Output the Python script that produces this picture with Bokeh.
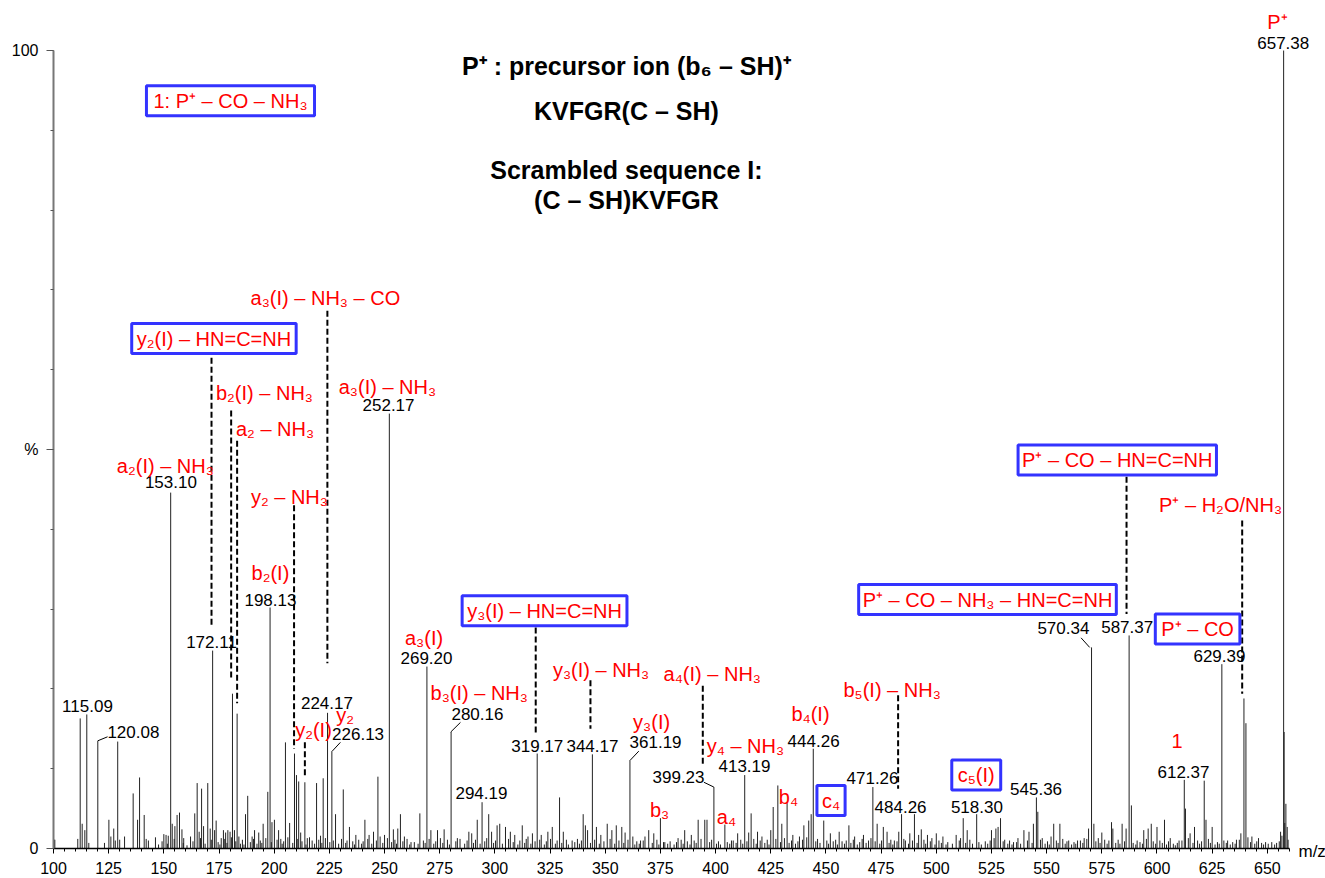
from bokeh.plotting import figure
from bokeh.models import ColumnDataSource, Label, FixedTicker, Range1d
from bokeh.embed import file_html
from bokeh.resources import INLINE

# ---------------- data (m/z, relative intensity %) ----------------
labeled_peaks = [
    (112.1, 16.3), (115.09, 16.8), (120.08, 13.5), (129.1, 13.4), (153.10, 44.6),
    (172.11, 24.8), (181.1, 19.4), (183.2, 16.9), (198.13, 30.2), (205.1, 13.3),
    (209.2, 11.9), (224.17, 17.0), (226.13, 12.2), (252.17, 54.5), (269.20, 22.8),
    (280.16, 14.6), (294.19, 5.8), (319.17, 11.9), (344.17, 11.8), (361.19, 11.0),
    (399.23, 7.7), (413.19, 9.2), (444.26, 12.5), (471.26, 7.7), (484.26, 4.3),
    (518.30, 4.3), (545.36, 6.4), (570.34, 25.2), (587.37, 26.7), (612.37, 8.6),
    (621.4, 8.5), (629.39, 23.1), (639.4, 18.8), (640.3, 15.7), (657.38, 100.0),
    (657.6, 14.6), (658.4, 5.6),
]

minor_peaks = [
    (100.3, 1.1), (100.6, 1.1), (111.0, 1.2), (113.0, 3.1), (114.2, 2.3), (116.0, 0.7),
    (123.1, 0.7), (125.1, 3.6), (126.0, 1.5), (127.3, 2.5), (128.0, 1.0), (130.0, 1.1),
    (132.2, 1.5), (136.1, 6.9), (138.1, 3.6), (139.0, 8.9), (141.1, 4.2), (142.0, 1.2),
    (143.0, 1.0), (146.2, 1.4), (150.0, 1.8), (151.0, 1.7), (152.0, 1.6), (153.8, 3.1),
    (155.0, 2.8), (156.0, 4.2), (157.1, 4.5), (158.2, 2.4), (159.0, 1.3), (162.1, 1.5),
    (164.0, 4.4), (165.1, 8.2), (166.0, 2.1), (167.1, 7.5), (168.0, 2.8), (169.9, 8.2),
    (171.0, 2.5), (173.0, 2.3), (173.7, 3.5), (176.0, 1.3), (177.0, 2.3), (178.0, 2.0),
    (179.0, 2.3), (180.0, 2.1), (182.0, 2.3), (184.0, 1.5), (187.0, 4.3), (188.0, 6.6),
    (190.0, 1.5), (191.1, 2.3), (193.0, 2.0), (195.0, 3.1), (197.1, 7.1), (199.0, 3.3),
    (200.1, 3.6), (202.0, 2.3), (203.0, 1.2), (207.0, 3.2), (210.1, 9.2), (211.1, 8.4),
    (212.0, 2.0), (213.9, 8.3), (215.0, 1.3), (216.0, 1.4), (219.2, 8.2), (221.0, 1.6),
    (222.2, 8.8), (227.8, 4.3), (231.3, 7.4), (233.0, 1.0), (234.1, 2.7), (237.0, 1.7),
    (241.1, 3.6), (243.0, 1.7), (245.0, 2.1), (247.0, 9.0), (248.0, 1.5), (250.0, 1.7),
    (254.0, 2.4), (256.0, 2.5), (257.2, 4.3), (259.0, 1.5), (262.0, 0.8), (266.0, 4.4),
    (271.0, 2.3), (274.0, 2.3), (277.0, 2.4), (283.0, 1.3), (288.2, 2.1), (289.5, 1.9),
    (292.0, 3.6), (297.2, 4.3), (298.5, 2.1), (301.0, 2.9), (302.2, 3.1), (304.8, 2.7),
    (307.0, 2.1), (309.0, 1.7), (312.4, 2.9), (315.0, 1.5), (317.0, 1.9), (321.0, 1.7),
    (324.0, 2.1), (326.0, 2.7), (329.3, 6.4), (331.0, 2.1), (335.0, 1.0), (340.0, 4.3),
    (341.0, 2.9), (342.0, 2.3), (346.0, 2.7), (348.0, 1.7), (350.9, 3.1), (353.0, 2.3),
    (355.0, 2.9), (357.5, 2.7), (359.0, 2.0), (362.5, 1.5), (366.0, 1.0), (368.0, 1.5),
    (369.7, 2.3), (372.0, 1.9), (375.0, 3.8), (377.0, 0.8), (383.0, 1.3), (386.0, 2.3),
    (389.0, 1.7), (392.1, 3.6), (395.1, 3.6), (396.1, 3.6), (404.2, 3.0), (408.0, 1.0),
    (410.0, 1.9), (415.0, 2.0), (416.1, 4.4), (419.0, 2.1), (421.0, 1.5), (425.0, 2.3),
    (426.1, 5.2), (428.2, 7.9), (430.0, 3.1), (432.4, 5.7), (435.0, 1.7), (438.0, 1.5),
    (440.0, 2.9), (442.2, 3.5), (443.3, 4.3), (449.0, 3.5), (452.0, 1.9), (456.0, 2.1),
    (460.4, 2.9), (463.0, 1.5), (467.0, 1.7), (473.2, 3.1), (476.0, 2.7), (477.7, 2.1),
    (481.0, 1.0), (483.0, 2.1), (486.0, 1.0), (488.0, 1.9), (490.1, 4.3), (492.0, 1.7),
    (493.2, 2.4), (496.0, 1.7), (498.0, 1.3), (500.0, 1.9), (503.0, 1.5), (509.0, 1.7),
    (511.0, 1.3), (512.2, 3.8), (514.0, 2.3), (525.0, 2.3), (527.0, 2.5), (528.0, 2.7),
    (529.1, 3.8), (531.0, 1.1), (535.0, 0.8), (537.0, 1.3), (539.7, 2.3), (542.0, 2.1),
    (544.0, 3.1), (546.0, 4.6), (548.0, 1.3), (552.0, 1.5), (553.2, 3.1), (556.0, 3.1),
    (560.0, 1.0), (564.0, 1.0), (567.0, 1.3), (569.0, 2.5), (571.4, 3.1), (575.0, 2.0),
    (579.4, 3.3), (580.0, 2.5), (584.2, 3.1), (586.0, 2.5), (588.4, 5.4), (591.0, 1.0),
    (594.0, 2.3), (596.0, 2.5), (597.4, 3.1), (600.0, 2.7), (603.4, 3.6), (606.0, 1.3),
    (610.0, 1.0), (612.9, 5.0), (615.0, 1.9), (617.0, 2.7), (622.2, 3.6), (625.0, 2.7),
    (632.0, 1.0), (636.0, 1.1), (638.0, 1.9), (643.0, 1.5), (646.0, 1.3), (652.0, 0.8),
    (656.0, 2.1), (659.0, 2.7),
]

noise_peaks = [
    (147.6, 0.5), (149.2, 0.9), (151.6, 0.6), (154.7, 1.2), (158.8, 0.7), (160.5, 0.4),
    (163.2, 0.9), (166.6, 1.3), (168.7, 0.6), (171.5, 1.1), (174.6, 0.8), (175.4, 0.5),
    (177.6, 1.2), (178.6, 0.7), (180.6, 1.4), (182.6, 0.9), (184.7, 0.6), (185.6, 1.1),
    (186.3, 0.5), (189.2, 0.8), (190.6, 1.2), (192.2, 0.6), (193.7, 1.0), (194.4, 0.7),
    (196.2, 1.3), (198.7, 0.8), (201.3, 1.1), (203.6, 0.6), (204.3, 0.9), (206.2, 1.4),
    (208.4, 0.7), (210.7, 1.2), (212.6, 0.9), (214.4, 0.5), (217.2, 1.0), (218.3, 0.6),
    (220.2, 1.1), (221.6, 0.7), (223.2, 1.3), (225.2, 0.8), (226.8, 1.0), (229.2, 0.6),
    (230.5, 1.2), (232.4, 0.7), (235.6, 0.9), (236.4, 0.5), (238.3, 1.1), (239.6, 0.6),
    (240.3, 0.9), (242.4, 1.2), (244.2, 0.6), (246.3, 1.0), (249.2, 0.7), (251.3, 1.3),
    (253.2, 0.8), (254.7, 1.1), (255.4, 0.6), (258.3, 0.9), (260.2, 1.2), (261.4, 0.5),
    (263.5, 0.8), (265.2, 0.6), (267.6, 1.0), (268.4, 0.7), (270.2, 1.2), (272.3, 0.6),
    (273.2, 0.9), (275.3, 1.3), (276.4, 0.7), (278.5, 1.1), (279.4, 0.5), (282.3, 0.9),
    (284.2, 1.2), (286.3, 0.6), (287.4, 1.0), (290.3, 0.7), (291.2, 1.1), (293.3, 0.6),
    (295.4, 0.9), (296.3, 1.3), (299.4, 0.7), (300.3, 1.0), (303.4, 0.6), (306.2, 1.2),
    (308.3, 0.8), (310.4, 0.5), (311.3, 1.0), (313.5, 0.7), (314.2, 1.2), (316.3, 0.6),
    (318.2, 0.9), (320.3, 1.1), (322.4, 0.5), (323.3, 0.9), (325.2, 1.2), (327.4, 0.6),
    (328.2, 1.0), (330.3, 0.7), (332.4, 1.1), (333.3, 0.5), (336.2, 0.8), (337.4, 1.2),
    (338.3, 0.6), (339.2, 1.0), (343.3, 0.7), (345.2, 1.1), (347.3, 0.6), (349.4, 0.9),
    (352.2, 1.2), (354.3, 0.6), (356.2, 1.0), (358.4, 0.7), (360.3, 1.1), (363.4, 0.5),
    (364.3, 0.9), (365.4, 0.6), (367.2, 1.0), (371.3, 0.7), (373.4, 1.1), (374.3, 0.5),
    (376.4, 0.8), (378.3, 0.6), (379.4, 0.9), (381.2, 0.5), (382.3, 0.8), (384.4, 1.1),
    (385.3, 0.6), (387.2, 0.9), (388.4, 0.5), (390.3, 1.0), (391.2, 0.7), (393.4, 1.2),
    (397.3, 0.8), (398.2, 1.1), (400.4, 0.6), (401.3, 0.9), (402.2, 0.5), (405.3, 0.8),
    (406.4, 0.6), (407.2, 1.0), (409.3, 0.7), (411.4, 1.1), (412.3, 0.6), (414.2, 0.9),
    (417.3, 1.2), (418.4, 0.6), (420.2, 1.0), (422.3, 0.7), (423.4, 1.1), (424.2, 0.5),
    (427.3, 1.2), (429.4, 0.8), (431.2, 1.3), (433.3, 0.7), (434.4, 1.0), (436.2, 0.6),
    (437.3, 0.9), (439.4, 1.1), (441.3, 1.4), (445.4, 0.9), (446.2, 1.2), (447.3, 0.7),
    (450.4, 1.0), (451.2, 0.6), (453.3, 0.9), (454.4, 1.1), (455.2, 0.5), (457.3, 0.9),
    (458.4, 0.6), (459.2, 1.0), (461.3, 0.7), (462.4, 1.1), (464.2, 0.5), (465.3, 0.8),
    (466.4, 1.2), (468.2, 0.7), (469.3, 1.0), (470.4, 1.3), (472.3, 0.9), (474.4, 0.6),
    (475.2, 1.0), (478.6, 0.7), (479.4, 1.1), (480.3, 0.5), (482.2, 0.9), (485.3, 1.2),
    (487.4, 0.6), (489.2, 1.0), (491.3, 0.7), (494.4, 1.1), (495.2, 0.6), (497.3, 0.9),
    (499.4, 0.5), (501.2, 1.0), (502.3, 0.7), (504.4, 0.5), (505.2, 0.8), (507.3, 0.6),
    (510.4, 1.0), (513.3, 0.7), (515.2, 1.1), (516.4, 0.6), (519.3, 0.8), (520.4, 0.5),
    (522.2, 0.9), (523.3, 0.6), (524.4, 1.0), (526.2, 1.3), (530.3, 0.9), (532.4, 0.6),
    (533.2, 1.0), (534.3, 0.5), (536.4, 0.8), (538.2, 0.6), (541.3, 1.0), (543.4, 0.7),
    (547.2, 1.1), (549.3, 0.6), (550.4, 0.9), (551.2, 0.5), (554.4, 1.0), (555.2, 0.7),
    (557.3, 1.2), (558.4, 0.6), (559.2, 0.9), (561.3, 0.5), (562.4, 0.8), (563.2, 0.6),
    (565.3, 1.0), (566.4, 0.7), (568.2, 1.2), (572.3, 0.9), (573.4, 1.3), (574.2, 0.7),
    (576.3, 1.1), (577.4, 0.6), (578.2, 1.0), (581.3, 0.7), (582.4, 1.1), (583.2, 0.6),
    (585.3, 0.9), (589.2, 0.7), (590.4, 0.5), (592.3, 0.8), (593.4, 0.6), (595.2, 1.2),
    (598.3, 0.9), (599.4, 0.6), (601.3, 1.0), (602.4, 0.7), (604.3, 0.5), (605.2, 0.9),
    (607.4, 0.6), (608.3, 0.4), (609.2, 0.7), (611.3, 1.0), (614.2, 1.3), (616.3, 0.7),
    (618.4, 1.0), (619.3, 0.6), (620.2, 0.9), (623.3, 1.2), (624.2, 0.7), (626.3, 0.5),
    (627.4, 0.8), (628.2, 0.6), (630.3, 1.0), (631.4, 0.7), (633.2, 0.5), (634.3, 0.8),
    (635.4, 0.6), (637.3, 1.1), (641.2, 1.4), (642.4, 0.8), (644.3, 0.6), (645.2, 0.9),
    (647.4, 0.7), (648.3, 0.5), (649.2, 0.8), (650.4, 0.6), (653.3, 0.5), (654.2, 0.7),
    (655.4, 0.9), (656.6, 1.6), (657.9, 3.2), (659.4, 1.1),
]

# peak-value labels (m/z text, position in m/z and %)
value_labels = [
    ("657.38", 657.2, 101.0), ("153.10", 153.2, 45.9), ("252.17", 251.8, 55.6),
    ("198.13", 198.3, 31.2), ("172.11", 171.6, 25.9), ("224.17", 223.9, 18.2),
    ("226.13", 238.0, 14.4), ("115.09", 115.4, 17.9), ("120.08", 136.2, 14.6),
    ("269.20", 269.0, 23.9), ("280.16", 292.1, 16.9), ("294.19", 293.9, 6.9),
    ("319.17", 319.2, 12.9), ("344.17", 344.2, 12.9), ("361.19", 372.8, 13.4),
    ("399.23", 383.2, 9.0), ("413.19", 413.1, 10.4), ("444.26", 444.4, 13.5),
    ("471.26", 471.1, 8.8), ("484.26", 483.8, 5.2), ("518.30", 518.4, 5.2),
    ("545.36", 545.2, 7.5), ("570.34", 557.6, 27.6), ("587.37", 586.5, 27.8),
    ("629.39", 628.3, 24.1), ("612.37", 612.0, 9.6),
]

# fragment-ion annotations (text, m/z, %)
ion_labels = [
    ("1: P⁺ – CO – NH₃", 180.2, 93.7),
    ("a₃(I) – NH₃ – CO", 223.2, 69.0),
    ("y₂(I) – HN=C=NH", 172.7, 63.9),
    ("b₂(I) – NH₃", 195.6, 57.1),
    ("a₂ – NH₃", 200.4, 52.6),
    ("a₃(I) – NH₃", 251.3, 57.8),
    ("a₂(I) – NH₃", 150.7, 47.9),
    ("y₂ – NH₃", 206.9, 44.0),
    ("b₂(I)", 198.3, 34.5),
    ("y₃(I) – HN=C=NH", 322.5, 29.8),
    ("a₃(I)", 267.9, 26.4),
    ("b₃(I) – NH₃", 292.9, 19.5),
    ("y₃(I) – NH₃", 348.1, 22.4),
    ("a₄(I) – NH₃", 398.5, 21.9),
    ("y₃(I)", 371.0, 15.9),
    ("y₄ – NH₃", 413.5, 12.8),
    ("b₄(I)", 443.0, 16.8),
    ("b₅(I) – NH₃", 480.0, 19.9),
    ("c₄", 452.3, 6.0),
    ("c₅(I)", 518.1, 9.2),
    ("b₃", 374.6, 4.8),
    ("a₄", 404.9, 4.0),
    ("b₄", 433.0, 6.5),
    ("y₂(I)", 217.8, 14.9),
    ("y₂", 232.1, 16.7),
    ("P⁺ – CO – HN=C=NH", 582.0, 48.7),
    ("P⁺ – H₂O/NH₃", 628.8, 43.0),
    ("P⁺ – CO – NH₃ – HN=C=NH", 523.2, 31.2),
    ("P⁺ – CO", 618.4, 27.5),
    ("1", 609.1, 13.5),
    ("P⁺", 654.6, 103.6),
]

# boxed annotations and their horizontal padding (px)
boxed = {
    "1: P⁺ – CO – NH₃": 7, "y₂(I) – HN=C=NH": 5, "y₃(I) – HN=C=NH": 5, "c₄": 5,
    "c₅(I)": 6, "P⁺ – CO – HN=C=NH": 4, "P⁺ – CO – NH₃ – HN=C=NH": 4, "P⁺ – CO": 6,
}

# dashed assignment lines: m/z, top %, bottom %
dashed_lines = [
    (171.6, 61.5, 27.7), (180.5, 54.9, 21.1), (183.2, 51.1, 18.2), (224.1, 67.4, 23.2),
    (209.0, 43.0, 12.5), (213.9, 13.3, 8.9), (318.5, 27.7, 14.4), (343.3, 21.1, 15.0),
    (394.2, 20.4, 10.4), (482.7, 19.2, 7.5), (586.2, 46.6, 29.4), (638.6, 41.1, 19.4),
]

# short leader lines from value labels to their peaks
leaders = [
    (124.5, 14.0, 120.1, 13.5), (230.0, 13.3, 226.3, 12.2), (284.4, 15.8, 280.0, 14.6),
    (365.2, 12.2, 361.1, 11.0), (394.7, 8.3, 399.2, 7.7), (565.6, 26.4, 569.5, 25.2),
]

title_lines = [
    ("P⁺ : precursor ion (b₆ – SH)⁺", 98.1),
    ("KVFGR(C – SH)", 92.4),
    ("Scrambled sequence I:", 85.0),
    ("(C – SH)KVFGR", 81.3),
]
title_mz = 359.6

x_ticks = list(range(100, 651, 25))
y_tick_labels = {0: "0", 50: "%", 100: "100"}

FONT = "Liberation Sans"

# ---------------- figure ----------------
# the frame fills the canvas; axes are pinned at m/z 100 and 0 %
p = figure(width=1325, height=878, output_backend="svg", toolbar_location=None,
           x_range=Range1d(75.99, 676.35), y_range=Range1d(-3.76, 106.27),
           min_border_left=0, min_border_right=0, min_border_top=0, min_border_bottom=0)
p.outline_line_color = None
p.xgrid.visible = False
p.ygrid.visible = False
p.background_fill_color = "white"

all_peaks = noise_peaks + minor_peaks + labeled_peaks
src = ColumnDataSource(dict(mz=[m for m, _ in all_peaks], pct=[v for _, v in all_peaks]))
p.segment(x0="mz", y0=0, x1="mz", y1="pct", source=src, line_color="#222222", line_width=1)

dsrc = ColumnDataSource(dict(x=[d[0] for d in dashed_lines], y0=[d[1] for d in dashed_lines],
                             y1=[d[2] for d in dashed_lines]))
p.segment(x0="x", y0="y0", x1="x", y1="y1", source=dsrc, line_color="black",
          line_width=2, line_dash="6 3")

lsrc = ColumnDataSource(dict(x0=[l[0] for l in leaders], y0=[l[1] for l in leaders],
                             x1=[l[2] for l in leaders], y1=[l[3] for l in leaders]))
p.segment(x0="x0", y0="y0", x1="x1", y1="y1", source=lsrc, line_color="black", line_width=1)

# axes
xa = p.xaxis[0]
xa.fixed_location = 0
xa.bounds = (100, 660)
xa.ticker = FixedTicker(ticks=x_ticks, minor_ticks=list(range(100, 661, 5)))
xa.axis_line_color = "black"
xa.axis_line_width = 1.5
xa.major_tick_out = 5
xa.major_tick_in = 0
xa.minor_tick_out = 3
xa.minor_tick_in = 0
xa.major_label_text_font = FONT
xa.major_label_text_font_size = "16px"
xa.major_label_text_color = "black"
xa.major_label_standoff = 9

ya = p.yaxis[0]
ya.fixed_location = 100
ya.bounds = (0, 100)
ya.ticker = FixedTicker(ticks=[0, 50, 100], minor_ticks=list(range(0, 101, 10)))
ya.major_label_overrides = y_tick_labels
ya.axis_line_color = "#777777"
ya.axis_line_width = 2
ya.major_tick_out = 7
ya.major_tick_in = 0
ya.minor_tick_out = 3
ya.minor_tick_in = 0
ya.major_tick_line_color = "#555555"
ya.minor_tick_line_color = "#555555"
ya.major_label_text_font = FONT
ya.major_label_text_font_size = "16px"
ya.major_label_text_color = "black"
ya.major_label_standoff = 8

# annotations
for txt, y in title_lines:
    p.add_layout(Label(x=title_mz, y=y, text=txt, text_font=FONT, text_font_size="25px",
                       text_font_style="bold", text_color="black",
                       text_align="center", text_baseline="middle"))

for txt, x, y in value_labels:
    p.add_layout(Label(x=x, y=y, text=txt, text_font=FONT, text_font_size="17px",
                       text_color="black", text_align="center", text_baseline="middle"))

for txt, x, y in ion_labels:
    kw = dict(x=x, y=y, text=txt, text_font=FONT, text_font_size="20px", text_color="#ff0000",
              text_align="center", text_baseline="middle")
    if txt in boxed:
        # padding is (horizontal, vertical)
        kw.update(border_line_color="#3333ff", border_line_width=3,
                  background_fill_color="white", padding=(boxed[txt], 4))
    p.add_layout(Label(**kw))

p.add_layout(Label(x=664.1, y=-0.4, text="m/z", text_font=FONT, text_font_size="17px",
                   text_color="black", text_align="left", text_baseline="middle"))

open("out.html", "w").write(file_html(p, INLINE))
